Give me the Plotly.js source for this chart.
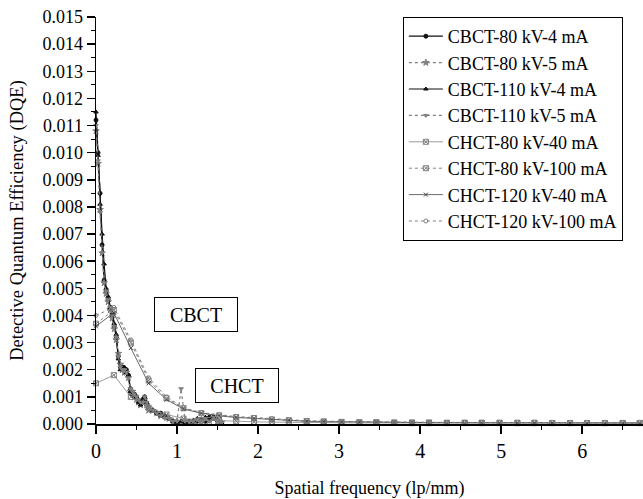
<!DOCTYPE html>
<html>
<head>
<meta charset="utf-8">
<script src="https://cdn.plot.ly/plotly-3.0.1.min.js"></script>
<style>html,body{margin:0;padding:0;background:#fff;}#chart{width:643px;height:499px;}</style>
</head>
<body>
<div id="chart"></div>
<script>
// Spatial frequency samples (lp/mm)
const cbctFreq = [0, 0.025, 0.05, 0.075, 0.10, 0.125, 0.15, 0.175, 0.20, 0.225, 0.25, 0.275, 0.30, 0.325, 0.35, 0.375, 0.40, 0.425, 0.45, 0.475, 0.50, 0.525, 0.55, 0.575, 0.60, 0.625, 0.65, 0.70, 0.75, 0.80, 0.85, 0.90, 0.95, 1.00, 1.05, 1.10, 1.15, 1.20, 1.25, 1.30, 1.35, 1.40, 1.45, 1.50, 1.55];
const chctFreq = [0, 0.22, 0.43, 0.65, 0.87, 1.08, 1.30, 1.52, 1.73, 1.95, 2.17, 2.38, 2.60, 2.81, 3.03, 3.25, 3.46, 3.68, 3.90, 4.11, 4.33, 4.55, 4.76, 4.98, 5.20, 5.41, 5.63, 5.85, 6.06, 6.28, 6.50, 6.71];

// DQE values
const cbct80kV4mA = [0.0112, 0.0100, 0.0085, 0.0066, 0.0053, 0.0049, 0.0046, 0.0043, 0.0040, 0.0036, 0.0032, 0.0025, 0.0021, 0.0021, 0.0020, 0.0020, 0.0018, 0.0013, 0.0011, 0.0011, 0.0010, 0.0008, 0.0008, 0.0009, 0.0010, 0.0007, 0.0006, 0.0005, 0.0004, 0.0004, 0.0003, 0.0002, 0.0001, 0.00005, 0.00008, 0.00004, 0.0001, 0.00006, 0.0001, 0.00018, 0.0001, 0.00025, 0.0002, 0.00012, 0.00005];
const cbct80kV5mA = [0.0108, 0.0096, 0.0079, 0.0063, 0.0052, 0.0048, 0.0045, 0.0042, 0.0039, 0.0035, 0.0031, 0.0026, 0.0022, 0.0020, 0.0019, 0.0019, 0.0017, 0.0012, 0.0012, 0.0010, 0.0009, 0.0008, 0.0007, 0.0008, 0.0009, 0.0007, 0.0005, 0.0005, 0.0004, 0.0003, 0.0003, 0.0002, 0.0001, 0.0001, 0.00006, 0.00012, 0.00005, 0.0001, 0.00015, 0.00008, 0.0002, 0.00012, 0.00022, 0.0001, 0.00006];
const cbct110kV4mA = [0.0115, 0.0099, 0.0081, 0.0070, 0.0059, 0.0050, 0.0047, 0.0043, 0.0041, 0.0037, 0.0033, 0.0024, 0.0020, 0.0021, 0.0021, 0.0019, 0.0018, 0.0012, 0.0011, 0.0010, 0.0010, 0.0008, 0.0007, 0.0009, 0.0010, 0.0008, 0.0006, 0.0005, 0.0004, 0.0003, 0.0003, 0.0002, 0.0001, 0.00005, 0.0001, 0.00005, 0.00008, 0.00012, 0.0002, 0.00012, 0.00025, 0.00015, 0.00028, 0.00015, 0.00004];
const cbct110kV5mA = [0.0110, 0.0097, 0.0078, 0.0063, 0.0052, 0.0049, 0.0046, 0.0043, 0.0040, 0.0036, 0.0032, 0.0025, 0.0021, 0.0020, 0.0020, 0.0019, 0.0017, 0.0013, 0.0012, 0.0011, 0.0010, 0.0009, 0.0008, 0.0008, 0.0010, 0.0008, 0.0006, 0.0005, 0.0004, 0.0003, 0.0002, 0.0002, 0.0001, 0.0001, 0.0013, 0.0001, 0.00008, 0.0001, 0.00018, 0.0001, 0.0002, 0.0001, 0.00025, 0.00012, 0.00005];
const chct80kV40mA = [0.0015, 0.0018, 0.0010, 0.0006, 0.00035, 0.0002, 0.00015, 0.00012, 0.0001, 0.00008, 0.00007, 0.00006, 0.00005, 0.00005, 0.00004, 0.00004, 0.00004, 0.00004, 0.00003, 0.00003, 0.00003, 0.00003, 0.00003, 0.00003, 0.00003, 0.00003, 0.00003, 0.00003, 0.00003, 0.00003, 0.00003, 0.00003];
const chct80kV100mA = [0.0037, 0.0042, 0.0030, 0.0016, 0.00095, 0.00058, 0.0004, 0.00032, 0.00026, 0.00022, 0.00017, 0.00014, 0.00011, 0.0001, 0.00008, 0.00007, 0.00007, 0.00006, 0.00006, 0.00006, 0.00005, 0.00005, 0.00005, 0.00005, 0.00005, 0.00005, 0.00004, 0.00004, 0.00004, 0.00004, 0.00004, 0.00004];
const chct120kV40mA = [0.0036, 0.0041, 0.0028, 0.0015, 0.0009, 0.00055, 0.0004, 0.0003, 0.00024, 0.0002, 0.00016, 0.00013, 0.0001, 0.00009, 0.00008, 0.00007, 0.00006, 0.00006, 0.00006, 0.00005, 0.00005, 0.00005, 0.00005, 0.00004, 0.00004, 0.00004, 0.00004, 0.00004, 0.00004, 0.00004, 0.00004, 0.00004];
const chct120kV100mA = [0.0040, 0.0043, 0.0031, 0.0017, 0.0010, 0.0006, 0.00042, 0.00034, 0.00027, 0.00024, 0.00019, 0.00015, 0.00012, 0.0001, 0.00009, 0.00008, 0.00007, 0.00007, 0.00006, 0.00006, 0.00006, 0.00006, 0.00005, 0.00005, 0.00005, 0.00005, 0.00005, 0.00005, 0.00005, 0.00005, 0.00005, 0.00005];

const seriesNames = ['CBCT-80 kV-4 mA', 'CBCT-80 kV-5 mA', 'CBCT-110 kV-4 mA', 'CBCT-110 kV-5 mA', 'CHCT-80 kV-40 mA', 'CHCT-80 kV-100 mA', 'CHCT-120 kV-40 mA', 'CHCT-120 kV-100 mA'];
const xTickVals = [0, 1, 2, 3, 4, 5, 6];
const boxLabels = ['CBCT', 'CHCT'];

const FONT = 'Liberation Serif, Times New Roman, serif';
const dark = '#111111', grey = '#808080';

function tr(name, x, y, color, dash, width, symbol, msize) {
  return {
    type: 'scatter', mode: 'lines+markers', name: name, x: x, y: y,
    line: {color: color, dash: dash, width: width},
    marker: {symbol: symbol, size: msize, color: color, line: {color: color, width: 1}},
    cliponaxis: false
  };
}

const data = [
  tr(seriesNames[0], cbctFreq, cbct80kV4mA, dark, 'solid', 1.3, 'circle', 4),
  tr(seriesNames[1], cbctFreq, cbct80kV5mA, grey, 'dot', 1.2, 'star', 5),
  tr(seriesNames[2], cbctFreq, cbct110kV4mA, dark, 'solid', 1.2, 'triangle-up', 4),
  tr(seriesNames[3], cbctFreq, cbct110kV5mA, grey, 'dot', 1.2, 'triangle-down', 4),
  tr(seriesNames[4], chctFreq, chct80kV40mA, grey, 'solid', 0.8, 'square-x-open', 5),
  tr(seriesNames[5], chctFreq, chct80kV100mA, grey, 'dot', 1, 'square-x-open', 5),
  tr(seriesNames[6], chctFreq, chct120kV40mA, '#444444', 'solid', 0.8, 'x-thin-open', 4),
  tr(seriesNames[7], chctFreq, chct120kV100mA, grey, 'dot', 1, 'circle-open', 4)
];

const layout = {
  width: 643, height: 499,
  margin: {l: 96, r: 0, t: 17, b: 75},
  paper_bgcolor: '#fff', plot_bgcolor: '#fff',
  font: {family: FONT, color: '#000', size: 16},
  showlegend: true,
  legend: {
    x: 0.561, y: 1.0, xanchor: 'left', yanchor: 'top',
    bordercolor: '#000', borderwidth: 1, bgcolor: '#fff',
    font: {family: FONT, size: 18, color: '#000'},
    tracegroupgap: 0, itemwidth: 34
  },
  xaxis: {
    range: [0, 6.75],
    tickvals: xTickVals, ticktext: xTickVals.map(String),
    ticks: 'outside', ticklen: 8, tickwidth: 1.5, tickcolor: '#000',
    minor: {dtick: 0.5, tick0: 0, ticks: 'outside', ticklen: 4, tickcolor: '#000', tickwidth: 1},
    showline: true, linecolor: '#000', linewidth: 1.5,
    showgrid: false, zeroline: false,
    tickfont: {family: FONT, size: 20},
    title: {text: 'Spatial frequency (lp/mm)', font: {family: FONT, size: 18}, standoff: 24}
  },
  yaxis: {
    range: [0, 0.015],
    dtick: 0.001, tick0: 0, tickformat: '.3f',
    ticks: 'outside', ticklen: 8, tickwidth: 1.5, tickcolor: '#000',
    minor: {dtick: 0.0005, tick0: 0, ticks: 'outside', ticklen: 4, tickcolor: '#000', tickwidth: 1},
    showline: true, linecolor: '#000', linewidth: 1.5,
    showgrid: false, zeroline: false,
    tickfont: {family: FONT, size: 18},
    title: {text: 'Detective Quantum Efficiency (DQE)', font: {family: FONT, size: 18.5}, standoff: 14}
  },
  annotations: [
    {x: 1.23, y: 0.00402, xref: 'x', yref: 'y', text: boxLabels[0], showarrow: false,
     font: {family: FONT, size: 20}, bordercolor: '#000', borderwidth: 1, borderpad: 2, width: 78, height: 29, bgcolor: '#fff'},
    {x: 1.74, y: 0.00142, xref: 'x', yref: 'y', text: boxLabels[1], showarrow: false,
     font: {family: FONT, size: 20}, bordercolor: '#000', borderwidth: 1, borderpad: 2, width: 78, height: 29, bgcolor: '#fff'}
  ]
};

Plotly.newPlot('chart', data, layout, {displayModeBar: false, staticPlot: true});
</script>
</body>
</html>
